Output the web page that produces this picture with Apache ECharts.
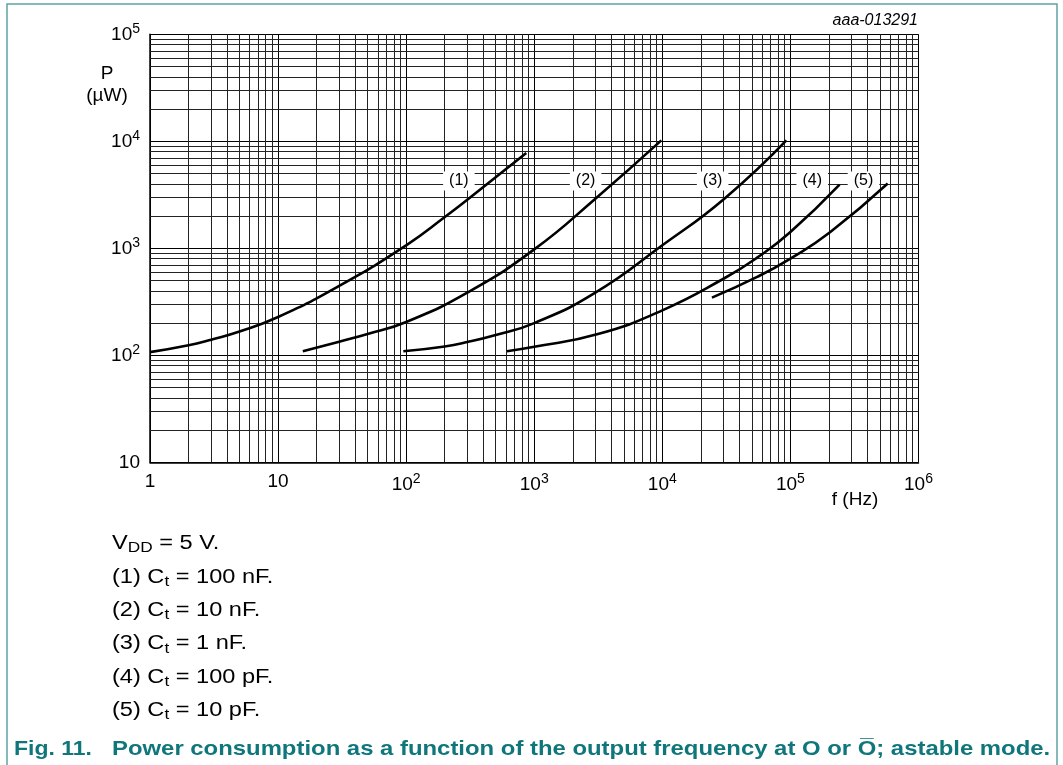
<!DOCTYPE html>
<html>
<head>
<meta charset="utf-8">
<script src="https://cdn.jsdelivr.net/npm/echarts@6/dist/echarts.min.js"></script>
<style>
html,body{margin:0;padding:0;background:#fff;}
#chart{width:1063px;height:765px;}
</style>
</head>
<body>
<div id="chart"></div>
<script>
// ---- data (f in Hz, P in µW) ----
const curve1 = [[1,107],[2,124],[3,140],[5,167],[10,228],[30,445],[100,1067],[204,1990],[307,2900],[866,7790]];
const curve2 = [[15.6,109],[30,134],[50,158],[100,205],[300,385],[1000,977],[3000,2910],[9820,10200]];
const curve3 = [[95,109],[200,121],[300,133],[500,155],[1000,200],[3000,385],[10000,1067],[30500,2910],[93000,10200]];
const curve4 = [[612,109],[1000,120],[3090,157],[10000,263],[30500,525],[55000,818],[100000,1420],[242000,3940]];
const curve5 = [[24400,346],[55000,540],[100000,802],[205000,1420],[575000,4030]];
const curveNames = ['(1)','(2)','(3)','(4)','(5)'];
const labelAnchors = [[258,4256],[2518,4256],[24700,4256],[148000,4256],[372000,4256]];
const xDecades = [1,10,100,1000,10000,100000,1000000];
const yDecades = [10,100,1000,10000,100000];
const legendLines = [
  ['(1) C','t',' = 100 nF.'],
  ['(2) C','t',' = 10 nF.'],
  ['(3) C','t',' = 1 nF.'],
  ['(4) C','t',' = 100 pF.'],
  ['(5) C','t',' = 10 pF.']
];

const curves = [curve1, curve2, curve3, curve4, curve5];
const FONT = 'Liberation Sans, Arial, sans-serif';
const TEAL = '#0f777c';

// minor grid values 2..9 within each decade
const xMinor = [];
for (let i = 0; i < xDecades.length - 1; i++) for (let k = 2; k <= 9; k++) xMinor.push(k * xDecades[i]);
const yMinor = [];
for (let i = 0; i < yDecades.length - 1; i++) for (let k = 2; k <= 9; k++) yMinor.push(k * yDecades[i]);

function expLabel(v) {
  const e = Math.round(Math.log10(v));
  if (e === 0) return '{b|1}';
  if (e === 1) return '{b|10}';
  return '{b|10}{s|' + e + '}';
}
const richSup = {
  b: {fontSize: 19, fontFamily: FONT, color: '#000'},
  s: {fontSize: 14, fontFamily: FONT, color: '#000', padding: [0, 0, 11, 0]}
};

const chart = echarts.init(document.getElementById('chart'), null, {renderer: 'canvas'});

const gridSeries = {
  type: 'line', data: [], silent: true, z: 1,
  markLine: {
    silent: true, symbol: ['none', 'none'], animation: false,
    label: {show: false},
    lineStyle: {color: '#222', width: 1, type: 'solid'},
    emphasis: {disabled: true},
    data: xMinor.map(v => ({xAxis: v})).concat(yMinor.map(v => ({yAxis: v})))
  }
};

const curveSeries = curves.map((c, i) => ({
  type: 'line', name: curveNames[i], data: c, smooth: 0.5, showSymbol: false, z: 5,
  lineStyle: {color: '#000', width: 2.6}, animation: false,
  markPoint: {
    symbol: 'rect', symbolSize: 0, animation: false, silent: true,
    label: {show: true, position: 'inside', formatter: curveNames[i], color: '#000', fontSize: 16, fontFamily: FONT,
            backgroundColor: '#fff', padding: [2, 6, 1, 6]},
    data: [{coord: labelAnchors[i]}]
  }
}));

function txt(text, x, y, opts, scaleX) {
  return {type: 'text', x: x, y: y, scaleX: scaleX || 1, silent: true,
    style: Object.assign({text: text, x: 0, y: 0, align: 'left', verticalAlign: 'middle', fontSize: 19, fontFamily: FONT, fill: '#000'}, opts || {})};
}
const richLegend = {n: {fontSize: 20.5, fontFamily: FONT, fill: '#000'}, sub: {fontSize: 15, fontFamily: FONT, fill: '#000', padding: [10, 0, 0, 0]}};

const graphics = [
  {type: 'polyline', shape: {points: [[7, 765], [7, 4], [1057, 4], [1057, 765]]}, style: {stroke: '#5fa3a6', lineWidth: 1.5, fill: null}, silent: true},
  txt('P', 107, 74, {align: 'center'}),
  txt('(µW)', 107, 96, {align: 'center'}),
  txt('aaa-013291', 918, 21, {align: 'right', fontSize: 16, fontStyle: 'italic'}),
  txt('f (Hz)', 855, 500, {align: 'center'}),
  txt('{n|V}{sub|DD}{n| = 5 V.}', 112, 543, {rich: richLegend}, 1.15)
];
legendLines.forEach((l, i) => {
  graphics.push(txt('{n|' + l[0] + '}{sub|' + l[1] + '}{n|' + l[2] + '}', 112, 577 + i * 33.3, {rich: richLegend}, 1.15));
});
graphics.push(txt('Fig. 11.', 14, 749, {fontSize: 20.5, fontWeight: 'bold', fill: TEAL}, 1.12));
graphics.push(txt('Power consumption as a function of the output frequency at O or O\u0305; astable mode.', 112, 749, {fontSize: 20.5, fontWeight: 'bold', fill: TEAL}, 1.165));

chart.setOption({
  animation: false,
  backgroundColor: '#fff',
  grid: {left: 150, right: 144.5, top: 34.3, bottom: 302.7, containLabel: false},
  xAxis: {
    type: 'log', logBase: 10, min: 1, max: 1e6, splitNumber: 6,
    axisLine: {show: true, lineStyle: {color: '#000', width: 1.5}},
    axisTick: {show: false},
    splitLine: {show: true, lineStyle: {color: '#000', width: 1}},
    axisLabel: {margin: 10, formatter: expLabel, fontSize: 19, fontFamily: FONT, color: '#000', rich: richSup, showMinLabel: true, showMaxLabel: true}
  },
  yAxis: {
    type: 'log', logBase: 10, min: 10, max: 1e5, splitNumber: 4,
    axisLine: {show: true, lineStyle: {color: '#000', width: 1.5}},
    axisTick: {show: false},
    splitLine: {show: true, lineStyle: {color: '#000', width: 1}},
    axisLabel: {margin: 10, formatter: expLabel, fontSize: 19, fontFamily: FONT, color: '#000', rich: richSup, showMinLabel: true, showMaxLabel: true}
  },
  series: [gridSeries].concat(curveSeries),
  graphic: graphics
});
</script>
</body>
</html>
